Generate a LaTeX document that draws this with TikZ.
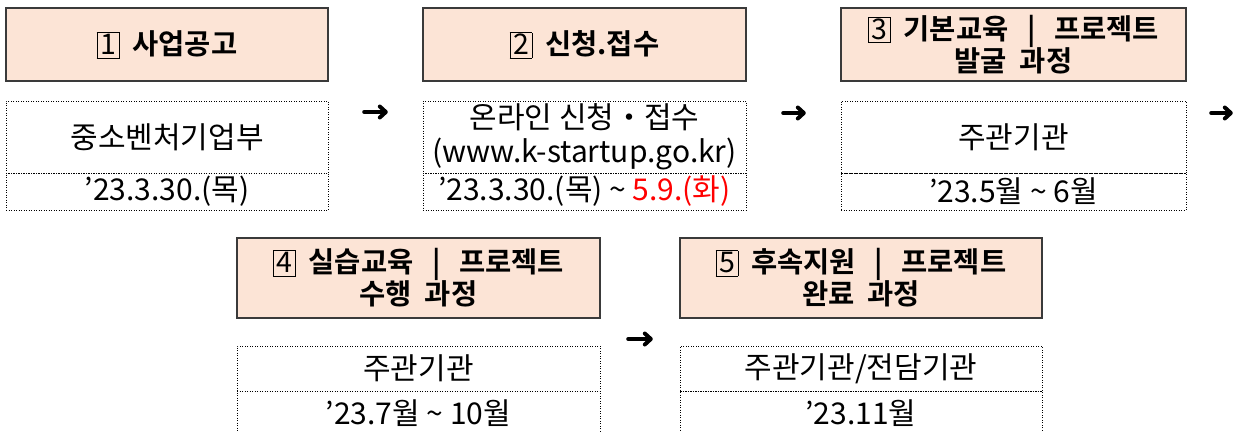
\documentclass[tikz,border=0pt]{standalone}
\usepackage{fontspec}
\setmainfont{Noto Sans CJK KR}[BoldFont={Noto Sans CJK KR Bold}]
\usepackage{xcolor}
\usepackage{tikz}
\usetikzlibrary{arrows.meta,shadows}
\definecolor{peach}{HTML}{FCE4D6}
\definecolor{rim}{HTML}{3A3A3A}
\newcommand{\stepno}[1]{{\mdseries\setlength{\fboxsep}{0pt}\setlength{\fboxrule}{0.7pt}\framebox[0.8em]{\rule[-0.1em]{0pt}{0.86em}#1}}}
\newcommand{\gap}{\hspace{0.45em}}
\newcommand{\sepbar}{\hspace{0.65em}|\hspace{0.65em}}
\tikzstyle{head}=[fill=peach, draw=rim, line width=1.1pt, shape=rectangle, align=center, inner sep=0pt, font=\fontsize{28.5}{32}\selectfont\bfseries, drop shadow={shadow xshift=1.2pt, shadow yshift=-1.2pt, fill=black!40, opacity=1}]
\tikzstyle{info}=[draw=black, dash pattern=on 1pt off 1.5pt, line width=0.7pt, shape=rectangle, align=center, inner sep=0pt, font=\fontsize{30}{34}\selectfont]
\tikzstyle{none}=[inner sep=0pt, minimum size=0pt]
\tikzstyle{flow edge}=[-{Straight Barb[round, length=6pt, width=11pt]}, line width=4pt, line cap=round, draw=black]
\pgfdeclarelayer{nodelayer}
\pgfdeclarelayer{edgelayer}
\pgfsetlayers{main,nodelayer,edgelayer}

\begin{document}
\begin{tikzpicture}[x=1pt, y=-1pt]
	\useasboundingbox (0,0) rectangle (1236,431);
	\begin{pgfonlayer}{nodelayer}
		\node [style=head, minimum width=322pt, minimum height=73pt] (0) at (167, 44.5) {\stepno{1}\gap 사업공고};
		\node [style=info, minimum width=322pt, minimum height=72pt] (1) at (167, 137) {중소벤처기업부};
		\node [style=info, minimum width=322pt, minimum height=37pt] (2) at (167, 191.5) {’23.3.30.(목)};
		\node [style=head, minimum width=323pt, minimum height=73pt] (3) at (584.5, 44.5) {\stepno{2}\gap 신청.접수};
		\node [style=info, minimum width=323pt, minimum height=72pt] (4) at (584.5, 137) {온라인 신청・접수\\(www.k-startup.go.kr)};
		\node [style=info, minimum width=323pt, minimum height=37pt] (5) at (584.5, 191.5) {’23.3.30.(목) \textasciitilde{} \textcolor{red}{5.9.(화)}};
		\node [style=head, minimum width=345pt, minimum height=73pt] (6) at (1013.5, 44.5) {\stepno{3}\gap 기본교육\sepbar 프로젝트\\발굴\gap 과정};
		\node [style=info, minimum width=345pt, minimum height=72pt] (7) at (1013.5, 137) {주관기관};
		\node [style=info, minimum width=345pt, minimum height=37pt] (8) at (1013.5, 191.5) {’23.5월 \textasciitilde{} 6월};
		\node [style=head, minimum width=363pt, minimum height=80pt] (9) at (418.5, 278) {\stepno{4}\gap 실습교육\sepbar 프로젝트\\수행\gap 과정};
		\node [style=info, minimum width=363pt, minimum height=45pt] (10) at (418.5, 368.5) {주관기관};
		\node [style=info, minimum width=363pt, minimum height=45pt] (11) at (418.5, 413.5) {’23.7월 \textasciitilde{} 10월};
		\node [style=head, minimum width=362pt, minimum height=80pt] (12) at (861, 278) {\stepno{5}\gap 후속지원\sepbar 프로젝트\\완료\gap 과정};
		\node [style=info, minimum width=362pt, minimum height=45pt] (13) at (861, 368.5) {주관기관/전담기관};
		\node [style=info, minimum width=362pt, minimum height=45pt] (14) at (861, 413.5) {’23.11월};
		\node [style=none] (15) at (364, 112) {};
		\node [style=none] (16) at (388, 112) {};
		\node [style=none] (17) at (783, 113) {};
		\node [style=none] (18) at (806, 113) {};
		\node [style=none] (19) at (1211, 113) {};
		\node [style=none] (20) at (1233, 113) {};
		\node [style=none] (21) at (628, 339) {};
		\node [style=none] (22) at (653, 339) {};
	\end{pgfonlayer}
	\begin{pgfonlayer}{edgelayer}
		\draw [style=flow edge] (15) to (16);
		\draw [style=flow edge] (17) to (18);
		\draw [style=flow edge] (19) to (20);
		\draw [style=flow edge] (21) to (22);
	\end{pgfonlayer}
\end{tikzpicture}
\end{document}
